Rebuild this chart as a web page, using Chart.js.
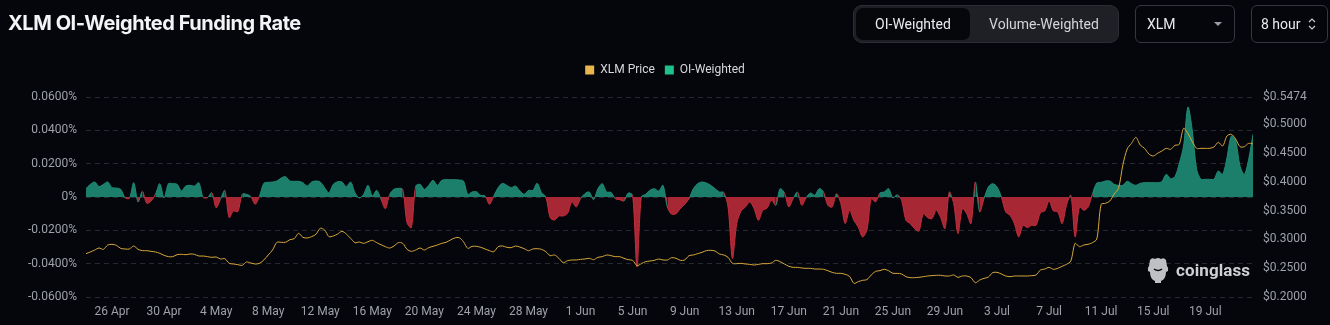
<!DOCTYPE html>
<html><head><meta charset="utf-8">
<script src="https://cdn.jsdelivr.net/npm/chart.js@4.4.1/dist/chart.umd.min.js"></script>
<style>
html,body{margin:0;padding:0;background:#04060b;width:1330px;height:325px;overflow:hidden;font-family:Roboto,'Noto Sans',sans-serif;}
#wrap{position:relative;width:1330px;height:325px;}
#c{position:absolute;left:0;top:0;}
.title{position:absolute;left:8px;top:11px;font:700 20px Inter,sans-serif;color:#f3f4f6;letter-spacing:-0.45px;white-space:nowrap;}
.seg{position:absolute;left:853px;top:5px;width:264px;height:36px;background:#1e2025;border:1px solid #2a2d33;border-radius:9px;}
.seg .on{position:absolute;left:2px;top:2px;width:114px;height:32px;background:#05070b;border-radius:7px;color:#e9ebef;font:400 14px Roboto,sans-serif;line-height:32px;text-align:center;}
.seg .off{position:absolute;left:116px;top:2px;width:148px;height:32px;color:#d3d5da;font:400 14px Roboto,sans-serif;line-height:32px;text-align:center;}
.box{position:absolute;top:5px;height:36px;border:1px solid #34373e;border-radius:6px;color:#e9ebef;font:400 14px Roboto,sans-serif;line-height:36px;}
.wm{position:absolute;left:1146px;top:256px;height:28px;display:flex;align-items:center;color:#cfd0d3;font:700 17px Roboto,sans-serif;letter-spacing:0.1px;}
</style></head>
<body><div id="wrap">
<canvas id="c" width="1330" height="325"></canvas>
<div class="title">XLM OI-Weighted Funding Rate</div>
<div class="seg"><div class="on">OI-Weighted</div><div class="off">Volume-Weighted</div></div>
<div class="box" style="left:1135px;width:98px;"><span style="position:absolute;left:11px;">XLM</span>
<svg style="position:absolute;left:78px;top:16px" width="8" height="5"><path d="M0 0 L8 0 L4 4 Z" fill="#9a9ca3"/></svg></div>
<div class="box" style="left:1251px;width:75px;"><span style="position:absolute;left:9px;">8 hour</span>
<svg style="position:absolute;left:56px;top:11px" width="8" height="14"><path d="M1 5 L4 2 L7 5 M1 9 L4 12 L7 9" stroke="#c9cbd0" stroke-width="1.2" fill="none"/></svg></div>
<div class="wm"><svg width="24" height="27" viewBox="0 0 24 27"><path d="M4 3 Q6 0 9 2 Q12 0 15 2 Q18 0 20 3 L21 9 Q23 11 22 14 L20 15 Q20 22 15 24 L15 26 L9 26 L9 24 Q4 22 4 15 L2 14 Q1 11 3 9 Z" fill="#bfc0c3"/><path d="M8 12 Q12 15 16 12" stroke="#04060b" stroke-width="1.5" fill="none"/></svg><span style="margin-left:6px">coinglass</span></div>
</div>
<script>
// ---- data ----
const startDate = '24 Apr';
const xTickLabels = ['26 Apr','30 Apr','4 May','8 May','12 May','16 May','20 May','24 May','28 May','1 Jun','5 Jun','9 Jun','13 Jun','17 Jun','21 Jun','25 Jun','29 Jun','3 Jul','7 Jul','11 Jul','15 Jul','19 Jul'];
const fundingTicks = [-0.06,-0.04,-0.02,0,0.02,0.04,0.06];
const priceTicks = [0.2,0.25,0.3,0.35,0.4,0.45,0.5,0.5474];
// OI-weighted funding rate (%), one value per 8h
const fundingRate = [
0.005,0.0076,0.009,0.0062,0.0076,0.009,0.0056,0.0054,0.0046,-0.0004,
-0.0008,0.0086,-0.003,0.0034,-0.0038,-0.0024,0.0016,0.008,-0.0006,0.008,
0.008,0.0076,0.0036,0.0066,0.007,0.0066,0.0086,-0.0002,-0.0004,0.0026,
-0.0064,-0.0014,0.004,-0.0124,-0.0084,-0.0088,0.0016,0.0016,0.0002,-0.0044,
0.0006,0.0082,0.0088,0.009,0.0096,0.0114,0.0122,0.0096,0.0094,0.0094,
0.0086,0.0066,0.009,0.0096,0.009,0.0056,0.0026,0.0076,0.0092,0.009,
0.0062,0.009,0.0026,-0.0006,0.0016,0.007,0.0006,0.004,-0.0014,-0.007,
0.0016,0.0046,0.0052,0.0046,-0.0154,-0.0184,0.0066,0.0076,0.0046,0.007,
0.01,0.007,0.01,0.0104,0.0104,0.0104,0.0102,0.0096,0.0016,0.003,
0.0032,0.001,0.0006,-0.0044,0.0006,0.0056,0.0082,0.007,0.0056,0.0066,
0.0036,0.0016,0.004,0.004,0.0082,0.0026,0,-0.0124,-0.0138,-0.0114,
-0.0114,-0.0098,-0.003,-0.006,-0.001,0.002,0.003,-0.0016,0.005,0.008,
0.003,0.0028,-0.001,-0.0016,-0.0024,0.0024,0.001,-0.042,0,0.0016,
0.004,0.005,0.0036,0.007,-0.006,-0.0104,-0.01,-0.007,-0.0044,-0.001,
0.005,0.008,0.009,0.0084,0.007,0.005,0.003,0.0028,-0.006,-0.037,
-0.016,-0.0084,-0.006,-0.003,-0.007,-0.014,-0.008,-0.0066,-0.002,-0.005,
0.005,0.0024,-0.006,-0.001,0.003,-0.005,-0.0004,0.0024,0.001,0.005,
0.003,-0.005,-0.006,0.002,-0.004,-0.016,-0.008,-0.014,-0.018,-0.024,
-0.02,-0.001,-0.003,0.0024,0.003,0.005,-0.0006,0.0014,-0.002,-0.014,
-0.016,-0.019,-0.0204,-0.01,-0.0124,-0.013,-0.008,-0.0124,-0.019,0.003,
-0.004,-0.022,-0.007,-0.01,-0.016,0.009,-0.009,-0.001,0.006,0.008,
0.006,0,-0.009,-0.011,-0.016,-0.024,-0.017,-0.0184,-0.017,-0.017,
-0.0094,-0.0084,-0.0024,-0.0084,-0.009,-0.016,-0.005,0.001,-0.024,-0.006,
-0.008,-0.006,0.002,0.0084,0.0088,0.0096,0.0096,0.0076,0.007,0.007,
0.0094,0.008,0.007,0.0082,0.0086,0.0086,0.0086,0.0086,0.0092,0.0136,
0.011,0.0122,0.02,0.0306,0.054,0.040,0.0166,0.0106,0.0106,0.0106,
0.0106,0.0156,0.0136,0.0236,0.0366,0.0336,0.0186,0.0136,0.0226,0.0376
];
// XLM price (USD), one value per 8h
const xlmPrice = [
0.2753,0.2782,0.2816,0.2851,0.2828,0.2903,0.2915,0.2897,0.2845,0.2834,
0.2834,0.2886,0.2828,0.2805,0.2805,0.2793,0.2782,0.2759,0.2724,0.2701,
0.2701,0.2735,0.2741,0.2735,0.2747,0.2741,0.2712,0.2712,0.2701,0.2689,
0.2695,0.266,0.2666,0.2585,0.2573,0.2562,0.255,0.2608,0.2591,0.2573,
0.2585,0.2643,0.273,0.2816,0.295,0.295,0.295,0.2996,0.3013,0.3106,
0.3036,0.3025,0.3048,0.3089,0.3193,0.3164,0.3048,0.306,0.3094,0.3141,
0.3094,0.3019,0.2944,0.2955,0.2932,0.2961,0.2984,0.2944,0.2909,0.2874,
0.2851,0.2886,0.2944,0.2932,0.2828,0.2793,0.2816,0.2851,0.2816,0.2857,
0.288,0.2903,0.2932,0.295,0.299,0.3025,0.3031,0.2961,0.2845,0.288,
0.288,0.2863,0.2834,0.2805,0.2787,0.2874,0.2886,0.2863,0.2857,0.2886,
0.2868,0.2839,0.2805,0.2834,0.2839,0.2828,0.2787,0.2718,0.273,0.2672,
0.2596,0.2631,0.2643,0.2643,0.2654,0.266,0.2672,0.2648,0.2689,0.2701,
0.273,0.2718,0.2701,0.2701,0.2672,0.2648,0.2637,0.2544,0.2579,0.2614,
0.2625,0.2637,0.266,0.2643,0.2643,0.2683,0.2672,0.2637,0.2643,0.2718,
0.273,0.2753,0.2776,0.2805,0.2811,0.2799,0.2747,0.273,0.2689,0.2585,
0.2579,0.2585,0.2573,0.2567,0.2556,0.2567,0.2579,0.2579,0.2591,0.2637,
0.2614,0.2573,0.2533,0.2515,0.2515,0.2504,0.2498,0.2498,0.2486,0.2486,
0.2481,0.2457,0.2428,0.2411,0.2411,0.2394,0.2359,0.2237,0.2266,0.229,
0.2301,0.2382,0.2446,0.2457,0.2481,0.2457,0.2411,0.2411,0.24,0.2353,
0.2336,0.2336,0.2342,0.2353,0.2365,0.2371,0.2377,0.2377,0.2365,0.2365,
0.2382,0.2342,0.2365,0.2365,0.2336,0.2249,0.2295,0.2324,0.2347,0.2423,
0.2428,0.24,0.2365,0.2353,0.2365,0.2365,0.2365,0.2365,0.2371,0.2382,
0.2469,0.2486,0.2515,0.2481,0.2498,0.2533,0.2567,0.2625,0.2932,0.2874,
0.2903,0.2915,0.2944,0.3007,0.361,0.3627,0.3667,0.3789,0.3888,0.4293,
0.4571,0.4669,0.4773,0.464,0.4582,0.4484,0.4449,0.4496,0.4536,0.4582,
0.4565,0.4634,0.4652,0.493,0.4843,0.4698,0.4582,0.4582,0.4582,0.4582,
0.4606,0.4687,0.4623,0.4797,0.4826,0.4744,0.4611,0.4611,0.4669,0.4658
];
// ---- chart ----
const firstTickIndex = 6;   // 26 Apr 00:00 is the 7th 8h step after 24 Apr 00:00
const tickStep = 12;        // 4 days of 8h steps
const GREEN = '#1c7f6c', RED = '#a82735';
const legendColors = ['#e8b64a', '#1fc08a'];
const tickFont = {family: 'Roboto', size: 12};
const tickColor = '#9ea1a8';

const legendMargin = {id: 'legendMargin', beforeInit(chart) {
  const orig = chart.legend.fit;
  chart.legend.fit = function () { orig.call(this); this.height += 11; };
}};

new Chart(document.getElementById('c'), {
  type: 'line',
  data: {
    datasets: [
      {
        label: 'XLM Price', yAxisID: 'y1',
        data: xlmPrice.map((v, i) => ({x: i, y: v})),
        borderColor: '#d9a83c', backgroundColor: legendColors[0],
        borderWidth: 1, pointRadius: 0, tension: 0.3, fill: false
      },
      {
        label: 'OI-Weighted', yAxisID: 'y',
        data: fundingRate.map((v, i) => ({x: i, y: v})),
        borderColor: '#1f8f78', backgroundColor: legendColors[1],
        borderWidth: 1, pointRadius: 0, tension: 0.3,
        fill: {target: 'origin', above: GREEN, below: RED},
        segment: {borderColor: c => (c.p0.parsed.y + c.p1.parsed.y) >= 0 ? '#1f8d76' : '#c42d3c'}
      }
    ]
  },
  options: {
    responsive: false, animation: false, devicePixelRatio: 1,
    layout: {padding: {top: 54, left: 0, right: 0, bottom: 0}},
    plugins: {
      tooltip: {enabled: false},
      legend: {
        position: 'top', align: 'center',
        labels: {
          color: '#d7d8db', font: {family: 'Roboto', size: 12}, boxWidth: 9, boxHeight: 9, padding: 10,
          generateLabels(chart) {
            const items = Chart.defaults.plugins.legend.labels.generateLabels(chart);
            items.forEach((it, k) => { it.fillStyle = legendColors[k]; it.strokeStyle = legendColors[k]; it.lineWidth = 0; });
            return items;
          }
        }
      }
    },
    scales: {
      x: {
        type: 'linear', min: 0, max: fundingRate.length - 1,
        grid: {display: false}, border: {display: false},
        ticks: {color: tickColor, font: tickFont, padding: 0, autoSkip: false, maxRotation: 0,
          callback: (v, idx) => xTickLabels[idx]},
        afterBuildTicks(s) { s.ticks = xTickLabels.map((_, k) => ({value: firstTickIndex + k * tickStep})); },
        afterFit(s) { s.height = 28; }
      },
      y: {
        position: 'left', min: -0.06, max: 0.06,
        grid: {color: '#26292f', drawTicks: false, lineWidth: 1},
        border: {display: false, dash: [5, 4]},
        ticks: {color: tickColor, font: tickFont, padding: 9,
          callback: v => Math.abs(v) < 1e-9 ? '0%' : v.toFixed(4) + '%'},
        afterBuildTicks(s) { s.ticks = fundingTicks.map(v => ({value: v})); },
        afterFit(s) { s.width = 86; }
      },
      y1: {
        position: 'right', min: 0.2, max: 0.5474,
        grid: {display: false, drawTicks: false}, border: {display: false},
        ticks: {color: tickColor, font: tickFont, padding: 10, callback: v => '$' + v.toFixed(4)},
        afterBuildTicks(s) { s.ticks = priceTicks.map(v => ({value: v})); },
        afterFit(s) { s.width = 77; }
      }
    }
  },
  plugins: [legendMargin]
});
</script>
</body></html>
